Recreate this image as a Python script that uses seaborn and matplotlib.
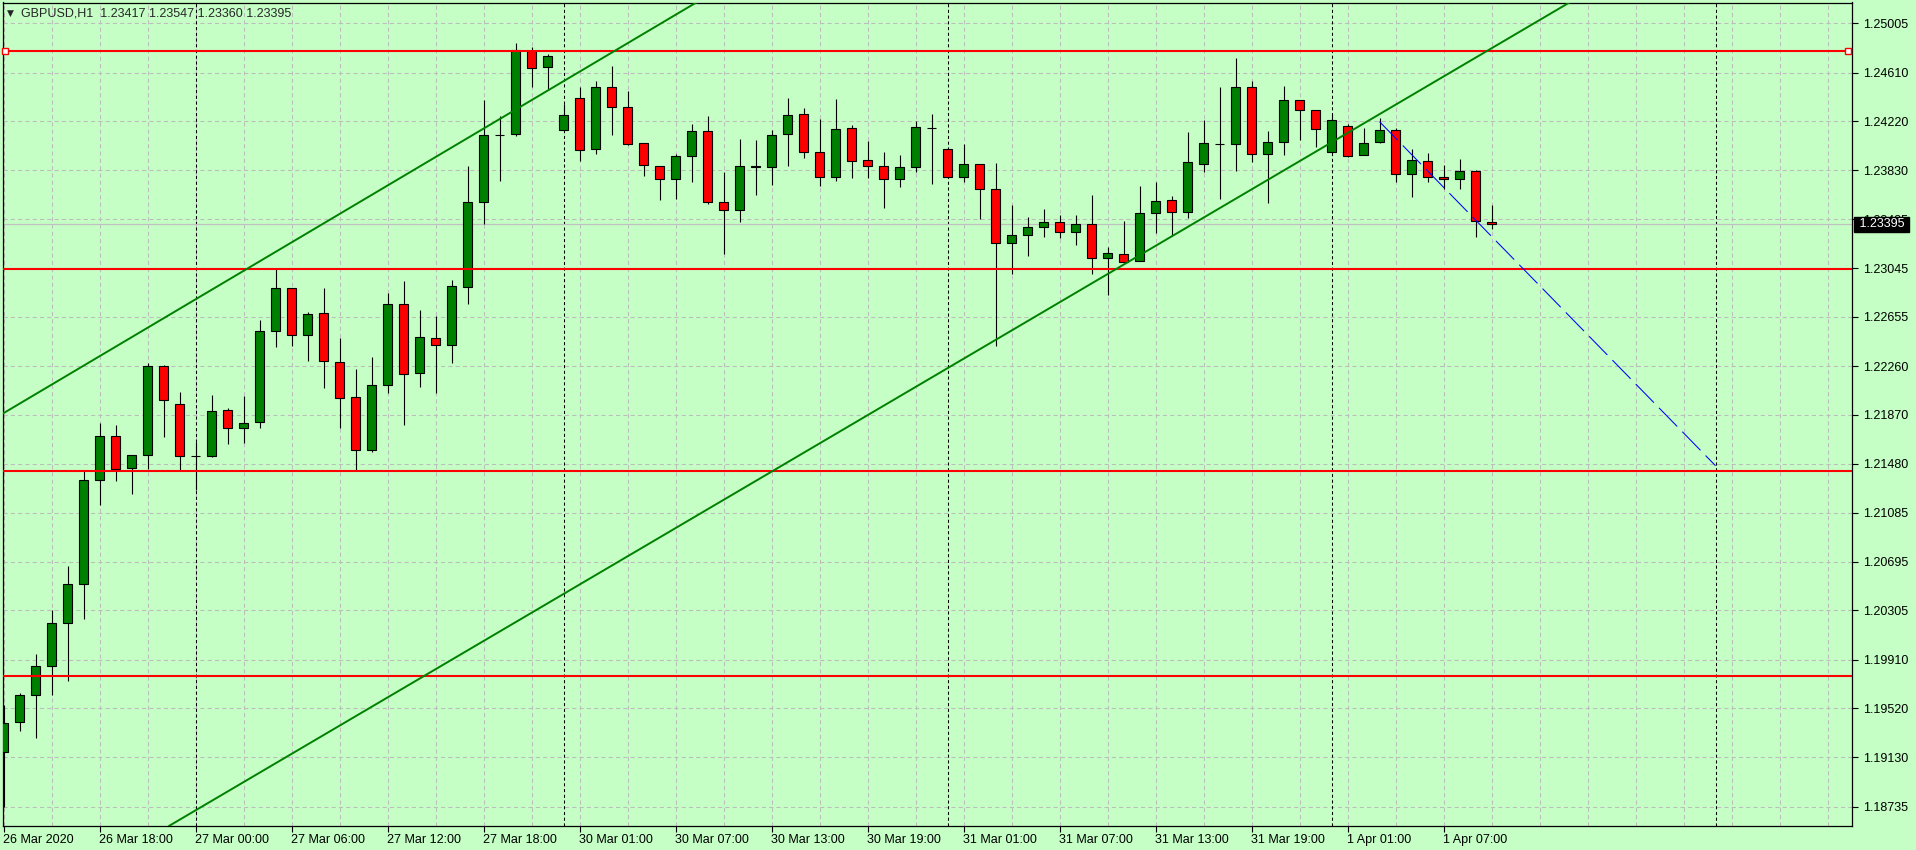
import matplotlib
matplotlib.use("Agg")
import matplotlib.pyplot as plt
import matplotlib.transforms as mtransforms
import numpy as np
import seaborn as sns


BG = "#c5ffc5"

# hourly candles, 26 Mar 2020 12:00 -> 1 Apr 2020 10:00 (index = bar number)
opens = [
    1.19169, 1.19409, 1.19625, 1.19857, 1.20201, 1.20514, 1.21346, 1.21699, 1.21445, 1.21546,
    1.22261, 1.21955, 1.21543, 1.21538, 1.21907, 1.21763, 1.21811, 1.22539, 1.22883, 1.22507,
    1.22683, 1.22291, 1.22013, 1.21591, 1.22107, 1.22755, 1.22203, 1.22483, 1.22427, 1.22891,
    1.23572, 1.24108, 1.24116, 1.24781, 1.24653, 1.24148, 1.24405, 1.23996, 1.24493, 1.24332,
    1.24044, 1.23860, 1.23756, 1.23940, 1.24140, 1.23577, 1.23508, 1.23857, 1.23852, 1.24116,
    1.24276, 1.23972, 1.23777, 1.24164, 1.23908, 1.23860, 1.23756, 1.23852, 1.24167, 1.23996,
    1.23777, 1.23876, 1.23676, 1.23244, 1.23308, 1.23372, 1.23412, 1.23332, 1.23396, 1.23124,
    1.23156, 1.23100, 1.23484, 1.23588, 1.23492, 1.23876, 1.24039, 1.24036, 1.24493, 1.23961,
    1.24052, 1.24389, 1.24308, 1.23972, 1.24180, 1.23948, 1.24052, 1.24148, 1.23796, 1.23900,
    1.23772, 1.23756, 1.23820, 1.23417,
]
highs = [
    1.19547, 1.19640, 1.19953, 1.20308, 1.20660, 1.21421, 1.21807, 1.21789, 1.21546, 1.22288,
    1.22269, 1.22053, 1.21655, 1.22029, 1.21925, 1.22021, 1.22630, 1.23048, 1.22888, 1.22691,
    1.22888, 1.22488, 1.22240, 1.22336, 1.22848, 1.22942, 1.22710, 1.22662, 1.22950, 1.23863,
    1.24391, 1.24263, 1.24847, 1.24815, 1.24759, 1.24359, 1.24495, 1.24543, 1.24663, 1.24463,
    1.24044, 1.23860, 1.23959, 1.24196, 1.24263, 1.23815, 1.24079, 1.24071, 1.24151, 1.24405,
    1.24327, 1.24239, 1.24399, 1.24191, 1.24063, 1.23975, 1.23951, 1.24223, 1.24279, 1.24007,
    1.24039, 1.23876, 1.23887, 1.23550, 1.23454, 1.23518, 1.23470, 1.23470, 1.23630, 1.23212,
    1.23422, 1.23702, 1.23734, 1.23620, 1.24135, 1.24231, 1.24495, 1.24727, 1.24543, 1.24143,
    1.24503, 1.24389, 1.24308, 1.24276, 1.24196, 1.24164, 1.24244, 1.24164, 1.23996, 1.23964,
    1.23868, 1.23916, 1.23828, 1.23547,
]
lows = [
    1.18733, 1.19339, 1.19286, 1.19630, 1.19742, 1.20238, 1.21149, 1.21341, 1.21237, 1.21434,
    1.21695, 1.21418, 1.21269, 1.21535, 1.21639, 1.21647, 1.21763, 1.22416, 1.22424, 1.22304,
    1.22088, 1.21767, 1.21421, 1.21575, 1.22048, 1.21789, 1.22096, 1.22048, 1.22288, 1.22758,
    1.23398, 1.23745, 1.24105, 1.24495, 1.24471, 1.24145, 1.23903, 1.23959, 1.24111, 1.24028,
    1.23785, 1.23593, 1.23601, 1.23737, 1.23561, 1.23158, 1.23417, 1.23633, 1.23713, 1.23865,
    1.23927, 1.23702, 1.23745, 1.23769, 1.23769, 1.23529, 1.23694, 1.23817, 1.23721, 1.23766,
    1.23734, 1.23441, 1.22424, 1.23000, 1.23144, 1.23296, 1.23288, 1.23232, 1.23000, 1.22832,
    1.23090, 1.23098, 1.23329, 1.23305, 1.23444, 1.23817, 1.23601, 1.23825, 1.23897, 1.23569,
    1.23953, 1.24071, 1.24017, 1.23964, 1.23937, 1.23948, 1.24044, 1.23734, 1.23617, 1.23732,
    1.23681, 1.23681, 1.23292, 1.23360,
]
closes = [
    1.19401, 1.19625, 1.19857, 1.20201, 1.20514, 1.21346, 1.21699, 1.21439, 1.21546, 1.22261,
    1.21987, 1.21538, 1.21543, 1.21899, 1.21763, 1.21803, 1.22539, 1.22883, 1.22507, 1.22675,
    1.22299, 1.22003, 1.21591, 1.22107, 1.22755, 1.22195, 1.22491, 1.22427, 1.22899, 1.23572,
    1.24108, 1.24111, 1.24789, 1.24645, 1.24741, 1.24268, 1.23988, 1.24493, 1.24332, 1.24036,
    1.23868, 1.23756, 1.23940, 1.24140, 1.23577, 1.23508, 1.23860, 1.23860, 1.24108, 1.24268,
    1.23972, 1.23777, 1.24156, 1.23900, 1.23860, 1.23756, 1.23852, 1.24172, 1.24167, 1.23777,
    1.23876, 1.23676, 1.23244, 1.23308, 1.23372, 1.23412, 1.23332, 1.23396, 1.23124, 1.23164,
    1.23092, 1.23484, 1.23580, 1.23492, 1.23892, 1.24044, 1.24039, 1.24493, 1.23961, 1.24052,
    1.24389, 1.24308, 1.24156, 1.24228, 1.23945, 1.24044, 1.24148, 1.23796, 1.23908, 1.23772,
    1.23756, 1.23820, 1.23420, 1.23395,
]

time_tick_bars = [0, 6, 12, 18, 24, 30, 36, 42, 48, 54, 60, 66, 72, 78, 84, 90]
time_tick_labels = [
    "26 Mar 2020", "26 Mar 18:00", "27 Mar 00:00", "27 Mar 06:00",
    "27 Mar 12:00", "27 Mar 18:00", "30 Mar 01:00", "30 Mar 07:00",
    "30 Mar 13:00", "30 Mar 19:00", "31 Mar 01:00", "31 Mar 07:00",
    "31 Mar 13:00", "31 Mar 19:00", "1 Apr 01:00", "1 Apr 07:00",
]
day_separator_bars = [12, 35, 59, 83, 107]

price_ticks = [
    1.25005, 1.24610, 1.24220, 1.23830, 1.23435, 1.23045, 1.22655, 1.22260,
    1.21870, 1.21480, 1.21085, 1.20695, 1.20305, 1.19910, 1.19520, 1.19130, 1.18735,
]

# drawn objects
level_prices = [1.24779, 1.23035, 1.21417, 1.19776]
upper_channel = [(24.16, 1.23718), (40.4, 1.24951)]
lower_channel = [(58.95, 1.22240), (91.76, 1.24711)]
projection_bars = [86, 107]
projection_prices = [1.24217, 1.21463]

symbol_title = "GBPUSD,H1  1.23417 1.23547 1.23360 1.23395"
bid_price = 1.23395


def main():
    sns.set_style("ticks")
    plt.rcParams.update(
        {
            "figure.facecolor": BG,
            "axes.facecolor": BG,
            "savefig.facecolor": BG,
            "axes.edgecolor": "black",
            "axes.linewidth": 0.9,
            "xtick.color": "black",
            "ytick.color": "black",
            "font.size": 9,
        }
    )
    plt.rcParams["font.family"] = ["Liberation Sans", "DejaVu Sans"]

    fig = plt.figure(figsize=(19.16, 8.5), dpi=100)
    ax = fig.add_axes([2.5 / 1916, 24 / 850, 1849.5 / 1916, 823.5 / 850])

    ax.set_xlim(-0.0625, 115.53)
    ax.set_ylim(1.18579, 1.25171)

    # grid and day separators
    for gx in np.arange(0, 116, 3):
        ax.axvline(gx, color="#bdbdbd", lw=0.75, dashes=(4, 3), zorder=0.5)
    for gy in price_ticks:
        ax.axhline(gy, color="#bdbdbd", lw=0.75, dashes=(4, 3), zorder=0.5)
    for sep in day_separator_bars:
        ax.axvline(sep, color="black", lw=0.75, dashes=(3, 2.5), zorder=0.8)

    ax.axhline(bid_price, color="#c0c0c0", lw=0.9, zorder=0.9)

    o = np.array(opens)
    h = np.array(highs)
    lo = np.array(lows)
    c = np.array(closes)
    idx = np.arange(len(o))

    ax.vlines(idx, lo, h, color="black", lw=0.8, zorder=2)
    body_colors = np.where(c > o, "#008000", np.where(c < o, "#ff0000", "black"))
    ax.bar(
        idx,
        c - o,
        bottom=o,
        width=0.62,
        color=body_colors,
        edgecolor="black",
        linewidth=0.8,
        zorder=3,
    )

    # horizontal levels
    for lvl in level_prices:
        ax.axhline(lvl, color="#ff0000", lw=1.5, zorder=4)
    ax.plot(
        [0.1, 115.3],
        [level_prices[0], level_prices[0]],
        linestyle="none",
        marker="s",
        ms=3.8,
        mfc="white",
        mec="#ff0000",
        mew=1.0,
        zorder=5,
        clip_on=False,
    )

    # channel lines
    for line in (upper_channel, lower_channel):
        ax.axline(line[0], line[1], color="#008000", lw=1.4, zorder=4)

    ax.plot(
        projection_bars,
        projection_prices,
        color="#0000ff",
        lw=0.75,
        dashes=(25, 7),
        zorder=4,
    )

    # axes ticks
    ax.yaxis.tick_right()
    ax.set_yticks(price_ticks)
    ax.set_yticklabels([f"{v:.5f}" for v in price_ticks])
    ax.tick_params(axis="y", direction="out", length=4, width=0.8, pad=4, labelsize=9)

    ax.set_xticks(time_tick_bars)
    ax.set_xticklabels(time_tick_labels, ha="left")
    ax.tick_params(axis="x", direction="out", length=4, width=0.8, pad=2, labelsize=9)
    offset = mtransforms.ScaledTranslation(-1 / 100, 0, fig.dpi_scale_trans)
    for lbl in ax.get_xticklabels():
        lbl.set_transform(lbl.get_transform() + offset)

    for side in ["top", "right", "left", "bottom"]:
        ax.spines[side].set_visible(True)
        ax.spines[side].set_color("black")

    # current price tag (covers the 1.23435 label, as in the terminal)
    tag_trans = mtransforms.blended_transform_factory(ax.transAxes, ax.transData)
    ax.text(
        1.0019,
        bid_price,
        f" {bid_price:.5f} ",
        transform=tag_trans,
        ha="left",
        va="center",
        color="white",
        fontsize=9,
        zorder=10,
        clip_on=False,
        bbox=dict(boxstyle="square,pad=0.1", fc="black", ec="black"),
    )

    fig.text(7 / 1916, 1 - 13 / 850, "▼", fontsize=6.5, va="center", ha="left",
             family=["DejaVu Sans"])
    fig.text(21 / 1916, 1 - 13 / 850, symbol_title, fontsize=9, va="center", ha="left")

    fig.savefig("out.png", dpi=100)
    plt.close(fig)


if __name__ == "__main__":
    main()
